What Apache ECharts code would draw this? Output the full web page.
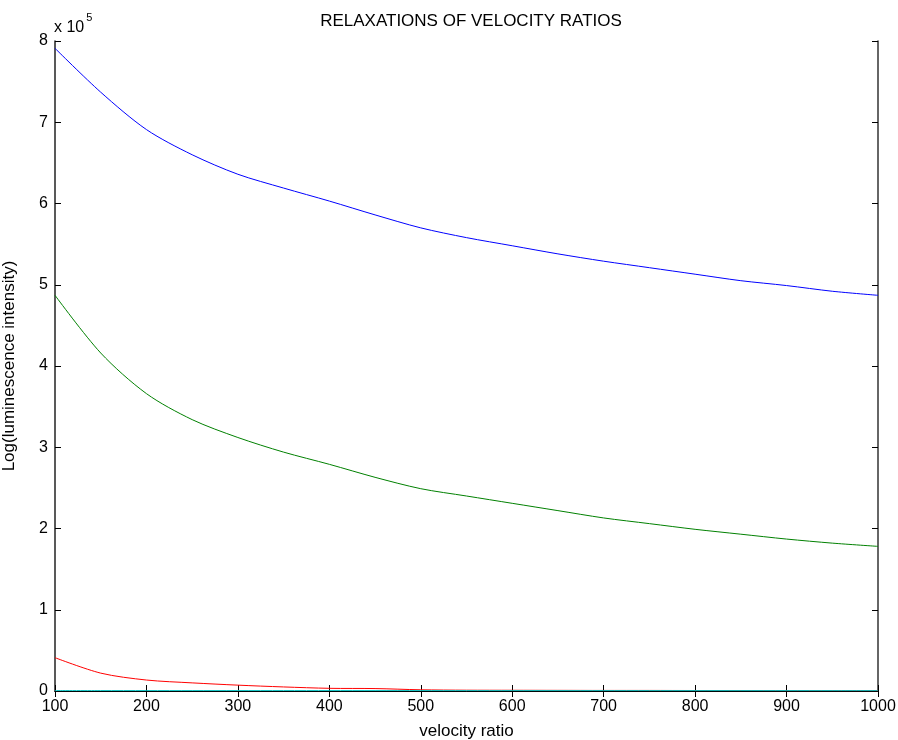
<!DOCTYPE html>
<html>
<head>
<meta charset="utf-8">
<script src="https://cdn.jsdelivr.net/npm/echarts@6/dist/echarts.min.js"></script>
<style>
  html, body { margin: 0; padding: 0; background: #fff; }
  #chart { width: 898px; height: 740px; }
</style>
</head>
<body>
<div id="chart"></div>
<script>
// velocity ratio samples
const velocityRatio = [100, 150, 200, 250, 300, 350, 400, 450, 500, 550, 600, 650, 700, 750, 800, 850, 900, 950, 1000];

// curves (raw values, axis shows x 10^5)
const blueCurve = [791000, 737000, 691000, 660000, 636000, 619000, 603000, 586000, 570000, 558000, 548000, 538000, 529000, 521000, 513000, 505000, 499000, 492000, 487000];
const greenCurve = [487000, 416000, 366000, 334000, 312000, 294000, 279000, 263000, 249000, 240000, 231000, 222000, 213000, 206000, 199000, 193000, 187000, 182000, 178000];
const redCurve = [41000, 22000, 13500, 10000, 7200, 5000, 3300, 3000, 1500, 1000, 900, 800, 700, 700, 600, 600, 500, 500, 500];
const cyanCurve = [500, 500, 500, 500, 500, 500, 500, 500, 500, 500, 500, 500, 500, 500, 500, 500, 500, 500, 500];

const yTicks = [0, 1, 2, 3, 4, 5, 6, 7, 8];

const pair = arr => velocityRatio.map((x, i) => [x, arr[i]]);

let myChart = echarts.init(document.getElementById('chart'));

const fontFam = 'Liberation Sans, Arial, sans-serif';

const mkSeries = (data, color) => ({
  type: 'line',
  data: pair(data),
  symbol: 'none',
  smooth: 0.3,
  lineStyle: { color: color, width: 1 },
  animation: false
});

myChart.setOption({
  animation: false,
  title: {
    text: 'RELAXATIONS OF VELOCITY RATIOS',
    left: 466,
    textAlign: 'center',
    top: 8,
    textStyle: { fontFamily: fontFam, fontSize: 17, fontWeight: 'normal', color: '#000' }
  },
  grid: { left: 55, right: 20, top: 41, bottom: 49, outerBoundsMode: 'none', containLabel: false },
  xAxis: [
    {
      type: 'value',
      min: 100,
      max: 1000,
      interval: 100,
      name: 'velocity ratio',
      nameLocation: 'middle',
      nameGap: 32,
      nameTextStyle: { fontFamily: fontFam, fontSize: 17, color: '#000' },
      axisLine: { lineStyle: { color: '#000', width: 1 } },
      axisTick: { inside: true, length: 6, lineStyle: { color: '#000' } },
      axisLabel: { fontFamily: fontFam, fontSize: 16, color: '#000', margin: 8, formatter: v => String(v) },
      splitLine: { show: false }
    },
    {
      type: 'value',
      position: 'top',
      min: 100,
      max: 1000,
      interval: 100,
      axisLine: { show: true, lineStyle: { color: '#000', width: 1 } },
      axisTick: { inside: true, length: 6, lineStyle: { color: '#000' } },
      axisLabel: { show: false },
      splitLine: { show: false }
    }
  ],
  yAxis: [
    {
      type: 'value',
      min: 0,
      max: 800000,
      interval: 100000,
      name: 'Log(luminescence intensity)',
      nameLocation: 'middle',
      nameGap: 37,
      nameTextStyle: { fontFamily: fontFam, fontSize: 17, color: '#000' },
      axisLine: { show: true, lineStyle: { color: '#222', width: 1.5 } },
      axisTick: { show: true, inside: true, length: 6, lineStyle: { color: '#000' } },
      axisLabel: {
        fontFamily: fontFam, fontSize: 16, color: '#000', margin: 7,
        formatter: v => String(yTicks[Math.round(v / 100000)])
      },
      splitLine: { show: false }
    },
    {
      type: 'value',
      position: 'right',
      min: 0,
      max: 800000,
      interval: 100000,
      axisLine: { show: true, lineStyle: { color: '#333', width: 1.5 } },
      axisTick: { show: true, inside: true, length: 6, lineStyle: { color: '#000' } },
      axisLabel: { show: false },
      splitLine: { show: false }
    }
  ],
  graphic: [
    {
      type: 'text',
      left: 54,
      top: 12,
      style: {
        text: '{b|x 10}{s|5}',
        rich: {
          b: { fontFamily: fontFam, fontSize: 16, fill: '#000', verticalAlign: 'bottom', lineHeight: 24 },
          s: { fontFamily: fontFam, fontSize: 11, fill: '#000', verticalAlign: 'top', lineHeight: 24, padding: [0, 0, 10, 2] }
        }
      }
    }
  ],
  series: [
    mkSeries(blueCurve, '#0000ff'),
    mkSeries(greenCurve, '#008000'),
    mkSeries(redCurve, '#ff0000'),
    mkSeries(cyanCurve, '#00bfbf')
  ]
});
</script>
</body>
</html>
